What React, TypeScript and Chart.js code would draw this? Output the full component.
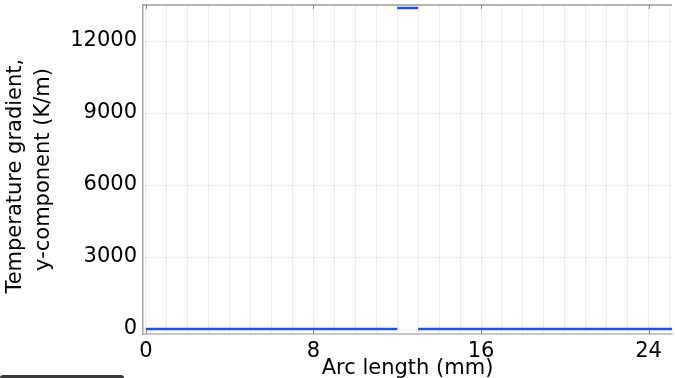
import { useEffect, useRef } from 'react';
import { Chart, registerables } from 'chart.js';

Chart.register(...registerables);

// Arc length (mm) and y-component of the temperature gradient (K/m); null breaks the line
const arcLengthMm = [0, 12, 12, 12, 13, 13, 13, 25.12];
const gradientY = [0, 0, null, 13380, 13380, null, 0, 0];
const xGridValues = [0, 1, 2, 3, 4, 5, 6, 7, 8, 9, 10, 11, 12, 13, 14, 15, 16, 17, 18, 19, 20, 21, 22, 23, 24, 25];
const xTickLabels = [0, 8, 16, 24];
const yTickValues = [0, 3000, 6000, 9000, 12000];
const xTitle = 'Arc length (mm)';
const yTitle = ['Temperature gradient,  ', 'y-component (K/m)'];

const W = 675;
const H = 378;
const FONT = 'DejaVu Sans';

export default function App() {
  const ref = useRef<HTMLCanvasElement>(null);

  useEffect(() => {
    document.body.style.margin = '0';
    const canvas = ref.current!;
    const frame = {
      id: 'frame',
      afterDraw(chart: any) {
        const { ctx, chartArea } = chart;
        const xs = chart.scales.x;
        ctx.save();
        ctx.strokeStyle = '#9a9a9a';
        ctx.lineWidth = 1.5;
        ctx.beginPath();
        ctx.moveTo(chartArea.left, chartArea.top);
        ctx.lineTo(chartArea.right, chartArea.top);
        ctx.stroke();
        ctx.strokeStyle = '#888';
        ctx.lineWidth = 1;
        for (const v of xTickLabels) {
          const px = Math.round(xs.getPixelForValue(v)) + 0.5;
          ctx.beginPath();
          ctx.moveTo(px, chartArea.top);
          ctx.lineTo(px, chartArea.top + 4);
          ctx.moveTo(px, chartArea.bottom);
          ctx.lineTo(px, chartArea.bottom - 4);
          ctx.stroke();
        }
        ctx.restore();
      },
    };

    const chart = new Chart(canvas, {
      type: 'line',
      data: {
        datasets: [
          {
            data: arcLengthMm.map((x, i) => ({ x, y: gradientY[i] })) as any,
            borderColor: 'rgb(32, 80, 228)',
            borderWidth: 2.5,
            pointRadius: 0,
            spanGaps: false,
            tension: 0,
          },
        ],
      },
      options: {
        responsive: false,
        animation: false,
        layout: { padding: { top: 5, right: 3, left: 0, bottom: 0 } },
        plugins: { legend: { display: false }, tooltip: { enabled: false } },
        scales: {
          x: {
            type: 'linear',
            min: -0.14,
            max: 25.12,
            afterBuildTicks: (s: any) => {
              s.ticks = xGridValues.map((value) => ({ value }));
            },
            afterFit: (s: any) => {
              s.height = H - 334;
              s.paddingLeft = 0;
              s.paddingRight = 0;
            },
            ticks: {
              autoSkip: false,
              maxRotation: 0,
              padding: 5,
              color: '#000',
              font: { family: FONT, size: 21 },
              callback: (v: any) => (xTickLabels.includes(Number(v)) ? String(v) : ''),
            },
            grid: { color: '#ececec', drawTicks: false },
            border: { color: '#c8c8c8', width: 2 },
            title: {
              display: true,
              text: xTitle,
              color: '#000',
              padding: { top: 0, bottom: -3 },
              font: { family: FONT, size: 21, lineHeight: 1.2 },
            },
          },
          y: {
            type: 'linear',
            min: -208,
            max: 13500,
            afterBuildTicks: (s: any) => {
              s.ticks = yTickValues.map((value) => ({ value }));
            },
            afterFit: (s: any) => {
              s.width = 143;
              s.paddingTop = 0;
              s.paddingBottom = 0;
            },
            ticks: {
              autoSkip: false,
              padding: 6,
              color: '#000',
              font: { family: FONT, size: 21 },
              callback: (v: any) => String(v),
            },
            grid: { color: '#ececec', drawTicks: false },
            border: { color: '#a8a8a8', width: 1.5 },
            title: {
              display: true,
              text: yTitle,
              color: '#000',
              padding: { top: 1, bottom: 0 },
              font: { family: FONT, size: 21, lineHeight: 1.35 },
            },
          },
        },
      },
      plugins: [frame],
    });
    return () => chart.destroy();
  }, []);

  return (
    <div style={{ position: 'absolute', left: 0, top: 0, width: W, height: H, overflow: 'hidden', background: '#fff' }}>
      <canvas ref={ref} width={W} height={H} style={{ width: W, height: H, display: 'block' }} />
      <div
        style={{
          position: 'absolute',
          left: 0,
          top: H - 3,
          width: 124,
          height: 6,
          background: '#3a3a3a',
          borderRadius: 3,
        }}
      />
    </div>
  );
}
